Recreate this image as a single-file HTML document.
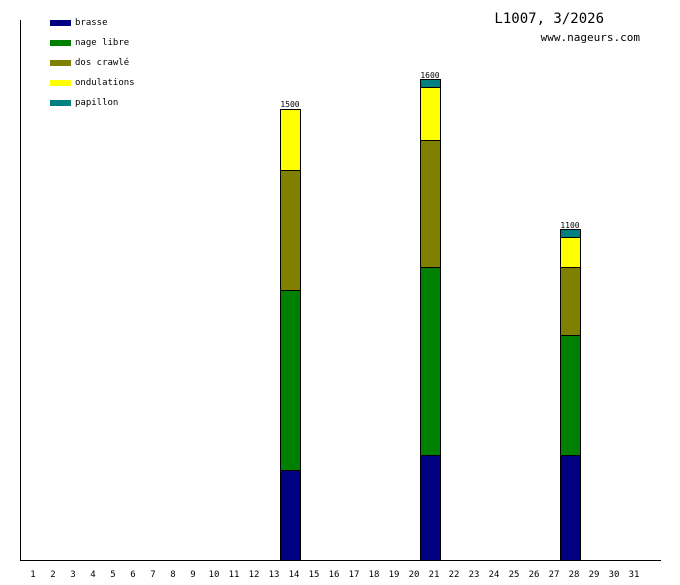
<!DOCTYPE html><html><head><style>body{margin:0;background:#fff}svg text{font-family:"DejaVu Sans Mono","Liberation Mono",monospace}</style></head><body>
<svg width="680" height="580" xmlns="http://www.w3.org/2000/svg">
<rect width="680" height="580" fill="#fff"/>
<line x1="20.5" y1="20" x2="20.5" y2="561" stroke="#000"/>
<line x1="20" y1="560.5" x2="661" y2="560.5" stroke="#000"/>
<g font-size="9">
<rect x="50" y="20" width="21" height="6" fill="#000080"/><text x="75" y="25">brasse</text>
<rect x="50" y="40" width="21" height="6" fill="#008000"/><text x="75" y="45">nage libre</text>
<rect x="50" y="60" width="21" height="6" fill="#808000"/><text x="75" y="65">dos crawlé</text>
<rect x="50" y="80" width="21" height="6" fill="#ffff00"/><text x="75" y="85">ondulations</text>
<rect x="50" y="100" width="21" height="6" fill="#008080"/><text x="75" y="105">papillon</text>
</g>
<text x="604" y="23" font-size="14" text-anchor="end">L1007, 3/2026</text>
<text x="640" y="41" font-size="11" text-anchor="end">www.nageurs.com</text>
<g stroke="#000" stroke-width="1">
<rect x="280.5" y="470.5" width="20" height="90" fill="#000080"/>
<rect x="280.5" y="290.5" width="20" height="180" fill="#008000"/>
<rect x="280.5" y="170.5" width="20" height="120" fill="#808000"/>
<rect x="280.5" y="109.5" width="20" height="61" fill="#ffff00"/>
<rect x="420.5" y="455.5" width="20" height="105" fill="#000080"/>
<rect x="420.5" y="267.5" width="20" height="188" fill="#008000"/>
<rect x="420.5" y="140.5" width="20" height="127" fill="#808000"/>
<rect x="420.5" y="87.5" width="20" height="53" fill="#ffff00"/>
<rect x="420.5" y="79.5" width="20" height="8" fill="#008080"/>
<rect x="560.5" y="455.5" width="20" height="105" fill="#000080"/>
<rect x="560.5" y="335.5" width="20" height="120" fill="#008000"/>
<rect x="560.5" y="267.5" width="20" height="68" fill="#808000"/>
<rect x="560.5" y="237.5" width="20" height="30" fill="#ffff00"/>
<rect x="560.5" y="229.5" width="20" height="8" fill="#008080"/>
</g>
<g font-size="8" text-anchor="middle">
<text x="290" y="107">1500</text><text x="430" y="78">1600</text><text x="570" y="228">1100</text>
</g>
<g font-size="9" text-anchor="middle">
<text x="33" y="577">1</text><text x="53" y="577">2</text><text x="73" y="577">3</text><text x="93" y="577">4</text><text x="113" y="577">5</text><text x="133" y="577">6</text><text x="153" y="577">7</text><text x="173" y="577">8</text><text x="193" y="577">9</text><text x="214" y="577">10</text><text x="234" y="577">11</text><text x="254" y="577">12</text><text x="274" y="577">13</text><text x="294" y="577">14</text><text x="314" y="577">15</text><text x="334" y="577">16</text><text x="354" y="577">17</text><text x="374" y="577">18</text><text x="394" y="577">19</text><text x="414" y="577">20</text><text x="434" y="577">21</text><text x="454" y="577">22</text><text x="474" y="577">23</text><text x="494" y="577">24</text><text x="514" y="577">25</text><text x="534" y="577">26</text><text x="554" y="577">27</text><text x="574" y="577">28</text><text x="594" y="577">29</text><text x="614" y="577">30</text><text x="634" y="577">31</text>
</g>
</svg></body></html>
